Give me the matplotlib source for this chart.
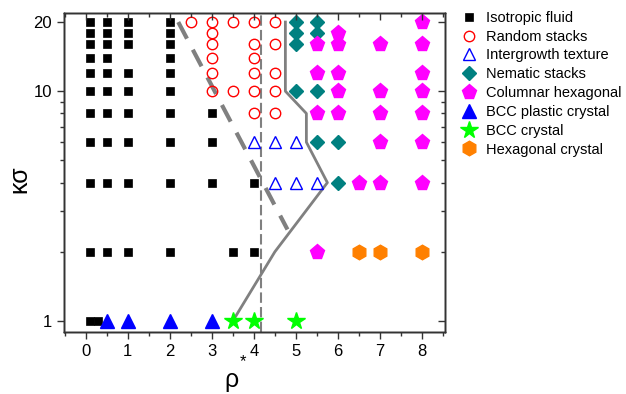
import matplotlib
matplotlib.use("Agg")
import matplotlib.pyplot as plt
from matplotlib.ticker import FixedLocator, MultipleLocator, NullFormatter, FixedFormatter
from matplotlib.lines import Line2D

plt.rcParams['font.family'] = ['Liberation Sans', 'DejaVu Sans']

# (rho*, kappa*sigma) state points for each phase
iso_rho = [0.1]*11 + [0.3] + [0.5]*10 + [1]*9 + [2]*10 + [3]*3 + [3.5] + [4]*2
iso_k = ([1, 2, 4, 6, 8, 10, 12, 14, 16, 18, 20] + [1]
         + [2, 4, 6, 8, 10, 12, 14, 16, 18, 20]
         + [2, 4, 6, 8, 10, 12, 16, 18, 20]
         + [2, 4, 6, 8, 10, 12, 14, 16, 18, 20]
         + [4, 6, 8] + [2] + [2, 4])

rand_rho = [2.5] + [3]*6 + [3.5]*2 + [4]*6 + [4.5]*5
rand_k = ([20] + [10, 12, 14, 16, 18, 20] + [10, 20]
          + [8, 10, 12, 14, 16, 20] + [8, 10, 12, 16, 20])

inter_rho = [4, 4.5, 5, 4.5, 5, 5.5]
inter_k = [6, 6, 6, 4, 4, 4]

nem_rho = [5]*4 + [5.5]*4 + [6]*2
nem_k = [10, 16, 18, 20] + [6, 10, 18, 20] + [4, 6]

col_rho = [8, 6, 5.5, 6, 7, 8, 5.5, 6, 8, 6, 7, 8, 5.5, 6, 7, 8, 7, 8, 6.5, 7, 8, 5.5]
col_k = [20, 18, 16, 16, 16, 16, 12, 12, 12, 10, 10, 10, 8, 8, 8, 8, 6, 6, 4, 4, 4, 2]

bccp_rho = [0.5, 1, 2, 3]
bccp_k = [1, 1, 1, 1]

bcc_rho = [3.5, 4, 5]
bcc_k = [1, 1, 1]

hexc_rho = [6.5, 7, 8]
hexc_k = [2, 2, 2]

# phase boundaries
dash_rho = [2.2, 4.8]
dash_k = [20, 2.5]
vline_rho = 4.17
solid_rho = [4.75, 4.75, 5.25, 5.25, 5.75, 4.5, 3.5]
solid_k = [20, 10, 8, 6, 4, 2, 1]

fig = plt.figure(figsize=(6.26, 3.94), dpi=100)
ax = fig.add_axes([64/626, 1 - 332/394, (445-64)/626, (332-13)/394])

gray = '#808080'
ax.plot(dash_rho, dash_k, color=gray, lw=3, dashes=(4.5, 3.0), zorder=1)
ax.axvline(vline_rho, color=gray, lw=1.5, dashes=(5, 2), zorder=1)
ax.plot(solid_rho, solid_k, color=gray, lw=2, zorder=1)

styles = [
    ('Isotropic fluid', iso_rho, iso_k, dict(marker='s', ms=6.0, mfc='black', mec='black', mew=0.5)),
    ('Random stacks', rand_rho, rand_k, dict(marker='o', ms=7.5, mfc='none', mec='#ff0000', mew=1.0)),
    ('Intergrowth texture', inter_rho, inter_k, dict(marker='^', ms=8.5, mfc='none', mec='#0000ff', mew=1.0)),
    ('Nematic stacks', nem_rho, nem_k, dict(marker='D', ms=7, mfc='#008080', mec='#008080')),
    ('Columnar hexagonal', col_rho, col_k, dict(marker='p', ms=11, mfc='#ff00ff', mec='#ff00ff')),
    ('BCC plastic crystal', bccp_rho, bccp_k, dict(marker='^', ms=10.5, mfc='#0000ff', mec='#0000ff')),
    ('BCC crystal', bcc_rho, bcc_k, dict(marker='*', ms=13, mfc='#00ff00', mec='#00ff00')),
    ('Hexagonal crystal', hexc_rho, hexc_k, dict(marker='h', ms=10.5, mfc='#ff8000', mec='#ff8000')),
]

handles = []
for label, xs, ys, st in styles:
    ax.plot(xs, ys, ls='none', zorder=3, **st)
    handles.append(Line2D([], [], ls='none', label=label, **st))

ax.set_yscale('log')
ax.set_xlim(-0.52, 8.55)
ax.set_ylim(0.895, 21.9)

ax.xaxis.set_major_locator(FixedLocator(range(0, 9)))
ax.xaxis.set_minor_locator(MultipleLocator(0.5))
ax.yaxis.set_major_locator(FixedLocator([1, 10, 20]))
ax.yaxis.set_major_formatter(FixedFormatter(['1', '10', '20']))
ax.yaxis.set_minor_locator(FixedLocator([2, 3, 4, 5, 6, 7, 8, 9]))
ax.yaxis.set_minor_formatter(NullFormatter())

ax.tick_params(axis='both', which='both', labelsize=12, width=1, color='#333333')
ax.tick_params(which='major', length=5)
ax.tick_params(which='minor', length=3)
ax.tick_params(axis='x', which='both', direction='out', top=False)
ax.tick_params(axis='y', which='both', direction='out', right=False)

# mirrored inward ticks on the top and right
tx = ax.twiny()
tx.set_xlim(ax.get_xlim())
tx.xaxis.set_major_locator(FixedLocator(range(0, 9)))
tx.xaxis.set_minor_locator(MultipleLocator(0.5))
tx.tick_params(which='both', direction='in', labeltop=False, width=1, color='#333333')
tx.tick_params(which='major', length=5)
tx.tick_params(which='minor', length=3)
ty = ax.twinx()
ty.set_yscale('log')
ty.set_ylim(ax.get_ylim())
ty.yaxis.set_major_locator(FixedLocator([1, 10, 20]))
ty.yaxis.set_minor_locator(FixedLocator([2, 3, 4, 5, 6, 7, 8, 9]))
ty.yaxis.set_minor_formatter(NullFormatter())
ty.tick_params(which='both', direction='in', labelright=False, width=1, color='#333333')
ty.tick_params(which='major', length=5)
ty.tick_params(which='minor', length=3)

for a in (ax, tx, ty):
    for s in a.spines.values():
        s.set_linewidth(1.0)
        s.set_color('#333333')

fig.text(231/626, 1 - 380/394, 'ρ', fontsize=18, ha='center', va='center')
fig.text(243/626, 1 - 362/394, '*', fontsize=12, ha='center', va='center')
fig.text(19/626, 1 - 179/394, 'κσ', fontsize=18, rotation=90, ha='center', va='center')

fig.legend(handles=handles, loc='upper left', bbox_to_anchor=(452/626, 1 - 5/394),
           frameon=False, fontsize=10.5, handletextpad=0.4, labelspacing=0.33,
           handlelength=1.5, borderaxespad=0)

fig.savefig('out.png', dpi=100)
